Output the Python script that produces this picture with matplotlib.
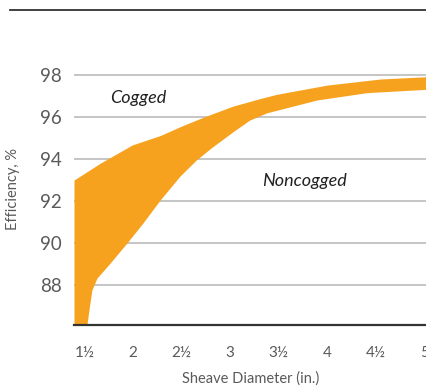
import numpy as np
import matplotlib.pyplot as plt

# upper edge of band (cogged belts)
cog_x = [1.39, 1.66, 1.99, 2.28, 2.50, 2.74, 3.03, 3.31, 3.48, 4.00, 4.55, 5.03]
cog_y = [93.0, 93.8, 94.67, 95.12, 95.57, 96.02, 96.52, 96.88, 97.08, 97.52, 97.81, 97.92]

# lower edge of band (noncogged belts)
noncog_x = [1.39, 1.515, 1.523, 1.549, 1.574, 1.626, 1.763, 1.935, 2.10, 2.278, 2.485,
            2.65, 2.81, 3.03, 3.2, 3.378, 3.894, 4.41, 5.03]
noncog_y = [85.0, 85.0, 86.1, 86.97, 87.76, 88.33, 89.05, 90.0, 90.95, 92.05, 93.2,
            93.95, 94.55, 95.3, 95.85, 96.2, 96.81, 97.16, 97.32]

x_ticks = [1.5, 2, 2.5, 3, 3.5, 4, 4.5, 5]
x_labels = ['1½', '2', '2½', '3', '3½', '4', '4½', '5']
y_ticks = [88, 90, 92, 94, 96, 98]

orange = '#F7A21F'
grey_txt = '#5a5a5a'

plt.rcParams['font.family'] = ['Lato', 'DejaVu Sans']

fig = plt.figure(figsize=(4.27, 3.87), dpi=100)
ax = fig.add_axes([74 / 427, 62 / 387, 353 / 427, 271 / 387])

# fill between the two edges on a shared grid
grid = sorted(set(cog_x) | set(noncog_x))
up_g = np.interp(grid, cog_x, cog_y)
lo_g = np.interp(grid, noncog_x, noncog_y)
ax.fill_between(grid, lo_g, up_g, color=orange, lw=0, zorder=2)

ax.set_xlim(1.39, 5.03)
ax.set_ylim(86.1, 99)

ax.set_yticks(y_ticks)
ax.set_xticks(x_ticks)
ax.set_xticklabels(x_labels)
ax.grid(axis='y', color='#bbbbbb', lw=1.2, zorder=1)
ax.set_axisbelow(True)

for s in ['top', 'left', 'right']:
    ax.spines[s].set_visible(False)
ax.spines['bottom'].set_color('#333333')
ax.spines['bottom'].set_linewidth(1.6)
ax.spines['bottom'].set_zorder(3)

ax.tick_params(axis='x', length=0, pad=15, labelsize=11, labelcolor=grey_txt)
ax.tick_params(axis='y', length=0, pad=9, labelsize=13.5, labelcolor=grey_txt)

ax.set_xlabel('Sheave Diameter (in.)', fontsize=10.5, color=grey_txt, labelpad=8)
ax.set_ylabel('Efficiency, %', fontsize=10.5, color=grey_txt, labelpad=14)

ax.text(1.76, 96.9, 'Cogged', fontsize=13, style='italic', color='#222222',
        va='center')
ax.text(3.33, 92.95, 'Noncogged', fontsize=13, style='italic', color='#222222',
        va='center')

# decorative rule at top
fig.add_artist(plt.Line2D([10 / 427, 1.0], [1 - 10 / 387, 1 - 10 / 387],
                          color='#333333', lw=1.3))

fig.savefig('out.png', dpi=100)
